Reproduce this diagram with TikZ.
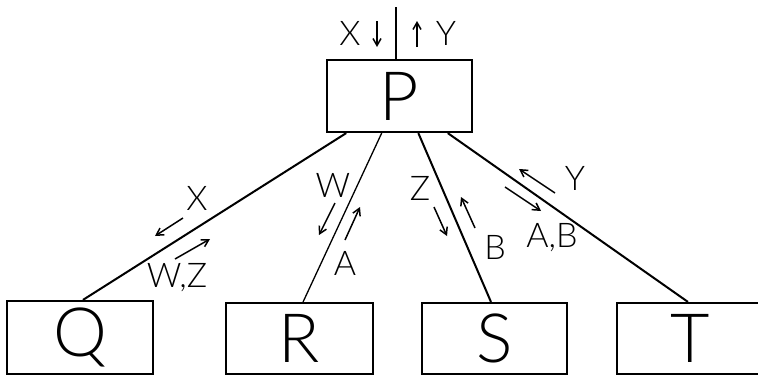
\documentclass[tikz,border=0pt]{standalone}
\usepackage{fontspec}
\setmainfont{Lato}[UprightFont={* Light}]
\usetikzlibrary{calc,arrows.meta}
\begin{document}
\begin{tikzpicture}[x=1pt,y=-1pt,
  box/.style={draw,line width=2.2pt,inner sep=0pt,font=\fontsize{68}{68}\selectfont},
  link/.style={line width=2pt},
  tag/.style={inner sep=0pt,font=\fontsize{34}{34}\selectfont},
  flow/.style={line width=1.5pt,-{Straight Barb[length=7pt,width=8pt,line width=1.5pt]}}]
\useasboundingbox (0,0) rectangle (758,376);
\clip (0,0) rectangle (758,376);

% processes
\node[box,minimum width=145pt,minimum height=72pt] (P) at (399.5,96) {P};
\node[box,minimum width=146pt,minimum height=73pt] (Q) at (80,337.5) {Q};
\node[box,minimum width=147pt,minimum height=71pt] (R) at (299.5,338.5) {R};
\node[box,minimum width=145pt,minimum height=71pt] (S) at (494.5,338.5) {S};
\node[box,minimum width=146pt,minimum height=71pt] (T) at (690,338.5) {T};

% link upwards
\coordinate (up) at (396,7);
\draw[link] ($(P.north)+(-3.5,0)$) -- (up);
\node[tag] (xtop) at (350,33) {X};
\node[tag] (ytop) at (446,33) {Y};
\draw[flow] (377,21) -- (377,47);
\draw[flow] (417,47) -- (417,21);

% links to the subordinate processes
\draw[link] ($(P.south west)!0.138!(P.south east)$) -- ($(Q.north west)!0.52!(Q.north east)$);
\draw[line width=1.3pt] ($(P.south west)!0.379!(P.south east)$) -- ($(R.north west)!0.524!(R.north east)$);
\draw[link] ($(P.south west)!0.628!(P.south east)$) -- ($(S.north west)!0.476!(S.north east)$);
\draw[link] ($(P.south west)!0.828!(P.south east)$) -- ($(T.north west)!0.486!(T.north east)$);

% P -- Q
\node[tag] (xq) at (197,198) {X};
\draw[flow] (183,218) -- (155,236);
\draw[flow] (175,259) -- (210,239);
\node[tag] (wz) at (177,278) {W,Z};

% P -- R
\node[tag] (wr) at (333,185) {W};
\draw[flow] (335,203) -- (319,235);
\draw[flow] (345,240) -- (360,207);
\node[tag] (ar) at (345,263) {A};

% P -- S
\node[tag] (zs) at (420,188) {Z};
\draw[flow] (434,207) -- (447,236);
\draw[flow] (475,228) -- (461,197);
\node[tag] (bs) at (495,247) {B};

% P -- T
\node[tag] (yt) at (575,178) {Y};
\draw[flow] (555,193) -- (519,169);
\draw[flow] (505,187) -- (541,211);
\node[tag] (abt) at (552,238) {A,B};
\end{tikzpicture}
\end{document}
